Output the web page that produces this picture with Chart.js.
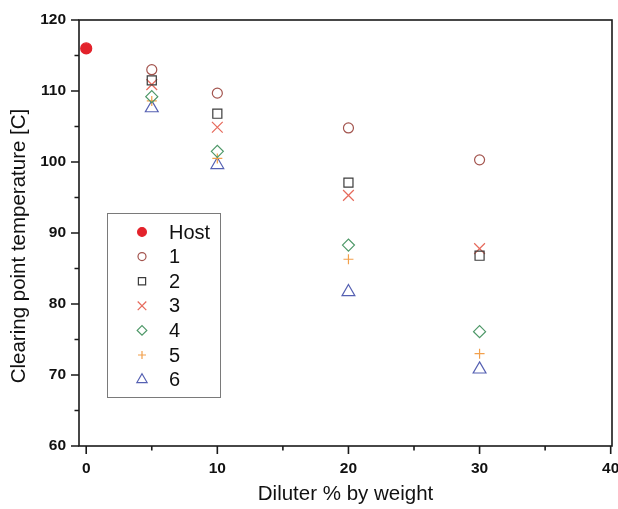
<!DOCTYPE html>
<html>
<head>
<meta charset="utf-8">
<script src="https://cdn.jsdelivr.net/npm/chart.js@4"></script>
<style>
    html, body { margin: 0; padding: 0; background: #fff; }
    #wrap { width: 618px; height: 509px; }
</style>
</head>
<body>
<div id="wrap"><canvas id="clearingChart" width="618" height="509"></canvas></div>
<script>
// diluter content (% by weight) and clearing points (C)
const hostDilution = [0];
const hostTemp     = [116.0];
const dilution     = [5, 10, 20, 30];
const temp1 = [113.0, 109.7, 104.8, 100.3];
const temp2 = [111.5, 106.8,  97.1,  86.8];
const temp3 = [110.9, 104.9,  95.3,  87.8];
const temp4 = [109.2, 101.5,  88.3,  76.1];
const temp5 = [108.6, 100.5,  86.3,  73.0];
const temp6 = [107.6,  99.6,  81.7,  70.8];

const xTicks = [0, 5, 10, 15, 20, 25, 30, 35, 40];
const yTicks = [60, 65, 70, 75, 80, 85, 90, 95, 100, 105, 110, 115, 120];

const LABEL_FONT = "Liberation Sans, Arial, sans-serif";

function pts(xs, ys) {
    return xs.map((x, i) => ({ x, y: ys[i] }));
}

const SERIES = [
    { label: 'Host', data: pts(hostDilution, hostTemp), style: 'circle',   radius: 5.5, color: '#e3222b', fill: true },
    { label: '1',    data: pts(dilution, temp1),        style: 'circle',   radius: 5,   color: '#a3544e' },
    { label: '2',    data: pts(dilution, temp2),        style: 'rect',     radius: 6.4, color: '#3c3c3c' },
    { label: '3',    data: pts(dilution, temp3),        style: 'crossRot', radius: 7.6, color: '#e66a5c' },
    { label: '4',    data: pts(dilution, temp4),        style: 'rectRot',  radius: 6,   color: '#4e9868' },
    { label: '5',    data: pts(dilution, temp5),        style: 'cross',    radius: 5,   color: '#f2a04c' },
    { label: '6',    data: pts(dilution, temp6),        style: 'triangle', radius: 7.4, color: '#5560b2' },
];

// no extra room for the edge tick labels: the last one may run off the canvas
const noEdgePadding = () => ({ left: 0, top: 0, right: 0, bottom: 0 });

// frame, outward ticks (major every 10, minor every 5) and the y title
const framePlugin = {
    id: 'frame',
    afterDraw(chart) {
        const { ctx, chartArea: a, scales: { x, y } } = chart;
        ctx.save();
        ctx.strokeStyle = '#1a1a1a';
        ctx.lineWidth = 1.6;
        ctx.strokeRect(a.left, a.top, a.right - a.left, a.bottom - a.top);
        ctx.beginPath();
        xTicks.forEach(v => {
            const px = x.getPixelForValue(v);
            const len = v % 10 === 0 ? 8 : 4.5;
            ctx.moveTo(px, a.bottom);
            ctx.lineTo(px, a.bottom + len);
        });
        yTicks.forEach(v => {
            const py = y.getPixelForValue(v);
            const len = v % 10 === 0 ? 8 : 4.5;
            ctx.moveTo(a.left, py);
            ctx.lineTo(a.left - len, py);
        });
        ctx.stroke();

        ctx.fillStyle = '#111';
        ctx.font = `20.5px ${LABEL_FONT}`;
        ctx.textAlign = 'center';
        ctx.textBaseline = 'middle';
        ctx.translate(19, 246);
        ctx.rotate(-Math.PI / 2);
        ctx.fillText('Clearing point temperature [C]', 0, 0);
        ctx.restore();
    }
};

// boxed legend sitting inside the plot area
const legendBoxPlugin = {
    id: 'legendBox',
    afterDraw(chart) {
        const { ctx } = chart;
        const box = { left: 107.5, top: 213.5, width: 113, height: 184 };
        ctx.save();
        ctx.fillStyle = '#fff';
        ctx.fillRect(box.left, box.top, box.width, box.height);
        ctx.strokeStyle = '#7a7a7a';
        ctx.lineWidth = 1;
        ctx.strokeRect(box.left, box.top, box.width, box.height);

        ctx.font = `20px ${LABEL_FONT}`;
        ctx.textAlign = 'left';
        ctx.textBaseline = 'middle';
        chart.data.datasets.forEach((ds, i) => {
            const cy = 232 + i * 24.6;
            ctx.strokeStyle = ds.borderColor;
            ctx.fillStyle = ds.backgroundColor;
            ctx.lineWidth = ds.borderWidth;
            Chart.helpers.drawPoint(ctx, {
                pointStyle: ds.pointStyle,
                radius: ds.pointRadius * 0.8,
                rotation: 0,
                borderWidth: ds.borderWidth
            }, 142, cy);
            ctx.fillStyle = '#111';
            ctx.fillText(ds.label, 169, cy + 1);
        });
        ctx.restore();
    }
};

new Chart(document.getElementById('clearingChart'), {
    type: 'scatter',
    data: {
        datasets: SERIES.map(s => ({
            label: s.label,
            data: s.data,
            pointStyle: s.style,
            pointRadius: s.radius,
            pointHoverRadius: s.radius,
            borderWidth: 1.2,
            borderColor: s.color,
            backgroundColor: s.fill ? s.color : 'rgba(0,0,0,0)'
        }))
    },
    options: {
        responsive: false,
        animation: false,
        layout: { autoPadding: false, padding: { top: 20, right: 6, left: 0, bottom: 0 } },
        plugins: {
            legend: { display: false },
            tooltip: { enabled: false }
        },
        scales: {
            x: {
                type: 'linear',
                min: -0.55,
                max: 40.1,
                grid: { display: false, drawTicks: false },
                border: { display: false },
                afterBuildTicks: s => { s.ticks = xTicks.map(v => ({ value: v })); },
                afterFit: s => { s.height = 63; s.getPadding = noEdgePadding; },
                ticks: {
                    autoSkip: false,
                    maxRotation: 0,
                    padding: 13,
                    color: '#111',
                    font: { family: LABEL_FONT, size: 15.5, weight: 'bold' },
                    callback: v => (v % 10 === 0 ? String(v) : '')
                },
                title: {
                    display: true,
                    text: 'Diluter % by weight',
                    color: '#111',
                    font: { family: LABEL_FONT, size: 20.5 },
                    padding: { top: 0, bottom: 2 }
                }
            },
            y: {
                type: 'linear',
                min: 60,
                max: 120,
                grid: { display: false, drawTicks: false },
                border: { display: false },
                afterBuildTicks: s => { s.ticks = yTicks.map(v => ({ value: v })); },
                afterFit: s => { s.width = 79; s.getPadding = noEdgePadding; },
                ticks: {
                    autoSkip: false,
                    padding: 13,
                    color: '#111',
                    font: { family: LABEL_FONT, size: 15.5, weight: 'bold' },
                    callback: v => (v % 10 === 0 ? String(v) : '')
                }
            }
        }
    },
    plugins: [framePlugin, legendBoxPlugin]
});
</script>
</body>
</html>
